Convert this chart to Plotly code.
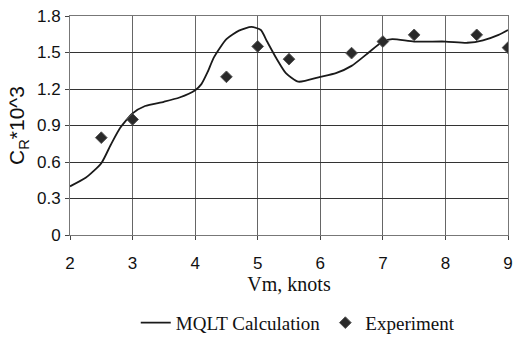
import plotly.graph_objects as go

calc_x = [2.0, 2.25, 2.5, 2.65, 2.8, 3.0, 3.2, 3.5, 3.75, 4.0, 4.1, 4.2, 4.3, 4.5, 4.7, 4.9, 5.05,
          5.15, 5.3, 5.45, 5.65, 6.0, 6.25, 6.5, 6.75, 7.0, 7.15, 7.5, 8.0, 8.35, 8.6, 8.85, 9.0]
calc_y = [0.40, 0.47, 0.59, 0.74, 0.88, 1.00, 1.06, 1.095, 1.13, 1.19, 1.24, 1.34, 1.46, 1.61, 1.68, 1.71, 1.685,
          1.59, 1.45, 1.33, 1.26, 1.30, 1.33, 1.39, 1.49, 1.59, 1.61, 1.59, 1.59, 1.58, 1.60, 1.645, 1.685]

exp_x = [2.5, 3.0, 4.5, 5.0, 5.5, 6.5, 7.0, 7.5, 8.5, 9.0]
exp_y = [0.80, 0.95, 1.30, 1.55, 1.445, 1.495, 1.59, 1.645, 1.645, 1.54]

fig = go.Figure()
fig.add_trace(go.Scatter(x=calc_x, y=calc_y, mode="lines", name="MQLT Calculation",
                         line=dict(color="#1a1a1a", width=1.8, shape="spline", smoothing=0.6)))
fig.add_trace(go.Scatter(x=exp_x, y=exp_y, mode="markers", name="Experiment",
                         marker=dict(symbol="diamond", size=9, color="#2a2a2a",
                                     line=dict(color="#555", width=1))))

fig.update_layout(
    width=520, height=338,
    margin=dict(l=70, r=7, t=16, b=103),
    paper_bgcolor="white", plot_bgcolor="white",
    showlegend=True,
    legend=dict(orientation="h", x=0.52, xanchor="center", yref="container", y=0.045, yanchor="middle",
                font=dict(family="Liberation Serif", size=19, color="#111"),
                itemwidth=30, tracegroupgap=0),
    xaxis=dict(range=[2, 9], dtick=1, tick0=2, showgrid=True, gridcolor="#666", gridwidth=1,
               showline=True, linecolor="#777", linewidth=1, mirror=True,
               ticks="outside", ticklen=4, tickcolor="#444", ticklabelstandoff=9,
               tickfont=dict(family="Liberation Sans", size=17, color="#111"),
               zeroline=False,
               title=dict(text="Vm, knots", font=dict(family="Liberation Serif", size=20, color="#111"),
                          standoff=0)),
    yaxis=dict(range=[0, 1.8], dtick=0.3, tick0=0, showgrid=True, gridcolor="#333", gridwidth=1,
               showline=True, linecolor="#777", linewidth=1, mirror=True,
               ticks="outside", ticklen=4, tickcolor="#444", ticklabelstandoff=1,
               tickfont=dict(family="Liberation Sans", size=17, color="#111"),
               zeroline=False,
               title=dict(text="C<sub>R</sub>*10^3", font=dict(family="Liberation Sans", size=21, color="#111"),
                          standoff=6)),
)

fig.write_html("out.html")
